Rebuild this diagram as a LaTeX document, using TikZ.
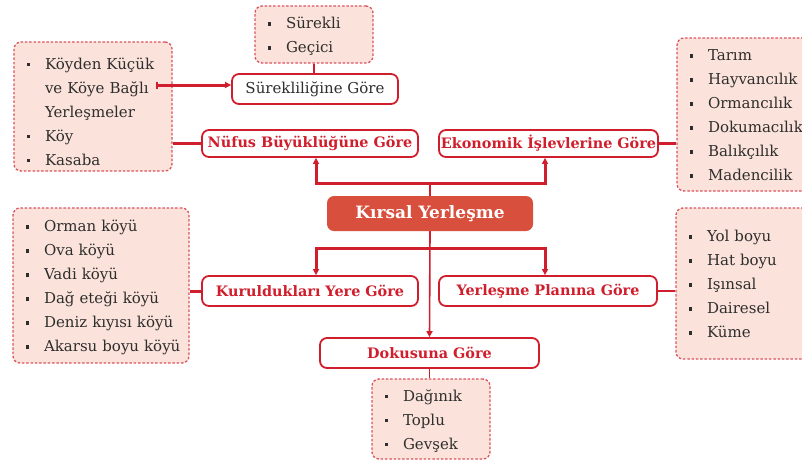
\documentclass[tikz,border=0pt]{standalone}
\usepackage{fontspec}
\setmainfont{DejaVu Serif}
\usetikzlibrary{arrows.meta}
\definecolor{cred}{HTML}{D01E2C}
\definecolor{cmain}{HTML}{D8503D}
\definecolor{cpink}{HTML}{FBE3DB}
\definecolor{cdash}{HTML}{D9545E}
\definecolor{ctext}{HTML}{2E2E2E}
\newcommand{\lstrut}{\rule[-5pt]{0pt}{22pt}}
\newcommand{\bl}{\makebox[18pt][l]{\raisebox{3pt}{\rule{3.2pt}{3.2pt}}}}
\newcommand{\li}[1]{\mbox{\lstrut\bl #1}}
\newcommand{\ind}[1]{\mbox{\lstrut\hspace*{18pt}#1}}
\tikzset{
  listbox/.style={draw=cdash, dash pattern=on 2.5pt off 1.8pt, line width=1.3pt, fill=cpink,
    rounded corners=7pt, inner ysep=0pt, inner xsep=13pt, align=left,
    font=\fontsize{15}{24}\selectfont, text=ctext},
  catbox/.style={draw=cred, line width=1.8pt, fill=white, rounded corners=7pt, inner sep=0pt,
    font=\fontsize{14.4}{16}\selectfont\bfseries, text=cred},
  mainbox/.style={fill=cmain, rounded corners=7pt, inner sep=0pt,
    font=\fontsize{17}{19}\selectfont\bfseries, text=white},
  thickline/.style={draw=cred, line width=3pt},
  thinline/.style={draw=cred, line width=1.6pt},
  tip/.style={-{Triangle[length=6pt,width=6pt]}}
}
\begin{document}
\begin{tikzpicture}[x=1pt,y=-1pt]
\useasboundingbox (0,0) rectangle (802,464);
\clip (0,0) rectangle (802,464);
% list boxes
\node[listbox, text width=92pt, minimum height=57pt] (sur) at (314,34.5) {\li{Sürekli}\\ \li{Geçici}};
\node[listbox, text width=132pt, minimum height=129pt] (koy) at (93,106.5)
  {\li{\rule{0pt}{26pt}Köyden Küçük}\\ \ind{ve Köye Bağlı}\\ \ind{Yerleşmeler}\\ \li{Köy}\\ \li{Kasaba}};
\node[listbox, text width=112pt, minimum height=153pt] (tar) at (746,114.5)
  {\li{Tarım}\\ \li{Hayvancılık}\\ \li{Ormancılık}\\ \li{Dokumacılık}\\ \li{Balıkçılık}\\ \li{Madencilik}};
\node[listbox, text width=150pt, minimum height=155pt] (orm) at (101,285.5)
  {\li{Orman köyü}\\ \li{Ova köyü}\\ \li{Vadi köyü}\\ \li{Dağ eteği köyü}\\ \li{Deniz kıyısı köyü}\\ \li{Akarsu boyu köyü}};
\node[listbox, text width=113pt, minimum height=151pt] (yol) at (745.5,283.5)
  {\li{Yol boyu}\\ \li{Hat boyu}\\ \li{Işınsal}\\ \li{Dairesel}\\ \li{Küme}};
\node[listbox, text width=92pt, minimum height=80pt] (dag) at (431,419)
  {\li{Dağınık}\\ \li{Toplu}\\ \li{Gevşek}};
% category boxes
\node[catbox, minimum width=166pt, minimum height=30pt, font=\fontsize{15}{17}\selectfont, text=ctext] (surg) at (315,89) {Sürekliliğine Göre};
\node[catbox, minimum width=216pt, minimum height=27pt] (nuf) at (310,143.5) {Nüfus Büyüklüğüne Göre};
\node[catbox, minimum width=219pt, minimum height=27pt] (eko) at (548.5,143.5) {Ekonomik İşlevlerine Göre};
\node[catbox, minimum width=216pt, minimum height=30pt] (kur) at (310,291) {Kuruldukları Yere Göre};
\node[catbox, minimum width=218pt, minimum height=30pt] (yer) at (548,291) {Yerleşme Planına Göre};
\node[catbox, minimum width=219pt, minimum height=30pt] (dok) at (429.5,353) {Dokusuna Göre};
\node[mainbox, minimum width=206pt, minimum height=35pt] (main) at (430,213.5) {Kırsal Yerleşme};
% connectors
\coordinate (tl) at (316,183);
\coordinate (tr) at (545,183);
\coordinate (bl) at (316,248);
\coordinate (br) at (545,248);
\coordinate (ks) at (156,85);
\draw[thinline] (main.north) -- (main.north|-tl);
\draw[thickline, {Triangle[length=6pt,width=6pt]}-{Triangle[length=6pt,width=6pt]}]
  (tl|-nuf.south) -- (tl) -- (tr) -- (tr|-eko.south);
\draw[thickline, {Triangle[length=6pt,width=6pt]}-{Triangle[length=6pt,width=6pt]}]
  (bl|-kur.north) -- (bl) -- (br) -- (br|-yer.north);
\draw[thinline, tip] (main.south) -- (dok.north);
\draw[thinline] (dok.south) -- (dag.north-|dok.south);
\draw[thinline] (sur.south) -- (surg.north-|sur.south);
\draw[thickline, {Bar[width=7pt,line width=2pt]}-{Triangle[length=6pt,width=6pt]}] (ks) -- (surg.west|-ks);
\draw[thinline, line width=2.2pt] (koy.east|-nuf.west) -- (nuf.west);
\draw[thinline, line width=2.2pt] (eko.east) -- (tar.west|-eko.east);
\draw[thickline] (orm.east|-kur.west) -- (kur.west);
\draw[thinline, line width=2.2pt] (yer.east) -- (yol.west|-yer.east);
\end{tikzpicture}
\end{document}
